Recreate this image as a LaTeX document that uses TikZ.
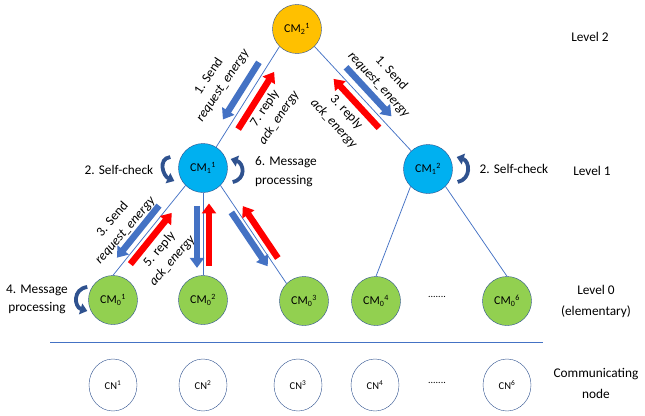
\documentclass[tikz,border=0pt]{standalone}
\usepackage{fontspec}
\setmainfont{Carlito}
\usetikzlibrary{arrows.meta,calc,shapes.geometric}
\definecolor{lineblue}{HTML}{4472C4}
\definecolor{rimblue}{HTML}{2F528F}
\definecolor{lvltwo}{HTML}{FFC000}
\definecolor{lvlone}{HTML}{00B0F0}
\definecolor{lvlzero}{HTML}{92D050}
\definecolor{msgred}{HTML}{FF0000}
\begin{document}
\begin{tikzpicture}[x=1pt,y=-1pt,
    mgr/.style={draw=rimblue,circle,inner sep=0,minimum size=49pt,font=\fontsize{12}{12}\selectfont},
    commnode/.style={draw=rimblue,ellipse,inner sep=0,minimum width=48pt,minimum height=52pt,font=\fontsize{10.5}{11}\selectfont},
    treeedge/.style={draw=lineblue,line width=0.75pt},
    sendmsg/.style={lineblue,line width=6.5pt,-{Triangle[length=10pt,width=14pt]}},
    replymsg/.style={msgred,line width=6.5pt,-{Triangle[length=10pt,width=14pt]}},
    selfturn/.style={rimblue,line width=3.8pt,-{Triangle[length=7pt,width=11pt]}},
    msglabel/.style={font=\fontsize{13.3}{17}\selectfont,align=center,inner sep=0},
    levellabel/.style={font=\fontsize{13.3}{21}\selectfont,align=center,inner sep=0}]
    \useasboundingbox (0,0) rectangle (645,415);
    % cluster managers
    \path (297,29) node [mgr,fill=lvltwo](cm21){CM\textsubscript{2}\textsuperscript{1}};
    \path (203,168) node [mgr,fill=lvlone](cm11){CM\textsubscript{1}\textsuperscript{1}};
    \path (428,169) node [mgr,fill=lvlone](cm12){CM\textsubscript{1}\textsuperscript{2}};
    \path (113,300) node [mgr,fill=lvlzero](cm01){CM\textsubscript{0}\textsuperscript{1}};
    \path (203,300) node [mgr,fill=lvlzero](cm02){CM\textsubscript{0}\textsuperscript{2}};
    \path (304,301) node [mgr,fill=lvlzero](cm03){CM\textsubscript{0}\textsuperscript{3}};
    \path (376,301) node [mgr,fill=lvlzero](cm04){CM\textsubscript{0}\textsuperscript{4}};
    \path (507,301) node [mgr,fill=lvlzero](cm06){CM\textsubscript{0}\textsuperscript{6}};
    \path (437,297) node [font=\fontsize{10}{11}\selectfont](dotscm){.......};
    % communicating nodes
    \path (113,385) node [commnode](cn1){CN\textsuperscript{1}};
    \path (203,385) node [commnode](cn2){CN\textsuperscript{2}};
    \path (298,385) node [commnode](cn3){CN\textsuperscript{3}};
    \path (375,385) node [commnode](cn4){CN\textsuperscript{4}};
    \path (507,385) node [commnode](cn6){CN\textsuperscript{6}};
    \path (437,383) node [font=\fontsize{10}{11}\selectfont](dotscn){.......};
    \coordinate (sepl) at (50,342);
    \coordinate (sepr) at (543,342);
    \draw[draw=lineblue,line width=1pt] (sepl) -- (sepr);
    % tree
    \draw[treeedge] (cm21.south west) -- (cm11);
    \draw[treeedge] (cm21.south east) -- (cm12);
    \draw[treeedge] (cm11.south west) -- (cm01.north);
    \draw[treeedge] (cm11.south) -- (cm02.north);
    \draw[treeedge] (cm11.south east) -- (cm03.north west);
    \draw[treeedge] (cm12.south west) -- (cm04.north);
    \draw[treeedge] (cm12.south east) -- (cm06.north);
    % messages
    \draw[sendmsg] ($(cm21.south west)!0.17!(cm11)!9pt!-90:(cm11)$) -- ($(cm21.south west)!0.64!(cm11)!9pt!-90:(cm11)$);
    \draw[replymsg] ($(cm21.south west)!0.64!(cm11)!9pt!90:(cm11)$) -- ($(cm21.south west)!0.17!(cm11)!9pt!90:(cm11)$);
    \draw[sendmsg] ($(cm21.south east)!0.22!(cm12)!9pt!90:(cm12)$) -- ($(cm21.south east)!0.62!(cm12)!9pt!90:(cm12)$);
    \draw[replymsg] ($(cm21.south east)!0.62!(cm12)!8pt!-90:(cm12)$) -- ($(cm21.south east)!0.22!(cm12)!8pt!-90:(cm12)$);
    \draw[sendmsg] ($(cm11.south west)!0.28!(cm01.north)!8pt!-90:(cm01.north)$) -- ($(cm11.south west)!0.86!(cm01.north)!8pt!-90:(cm01.north)$);
    \draw[replymsg] ($(cm11.south west)!0.83!(cm01.north)!6.5pt!90:(cm01.north)$) -- ($(cm11.south west)!0.26!(cm01.north)!6.5pt!90:(cm01.north)$);
    \draw[sendmsg] ($(cm11.south)!0.16!(cm02.north)!6pt!-90:(cm02.north)$) -- ($(cm11.south)!0.91!(cm02.north)!6pt!-90:(cm02.north)$);
    \draw[replymsg] ($(cm11.south)!0.89!(cm02.north)!6pt!90:(cm02.north)$) -- ($(cm11.south)!0.13!(cm02.north)!6pt!90:(cm02.north)$);
    \draw[sendmsg] ($(cm11.south east)!0.24!(cm03.north west)!6pt!-90:(cm03.north west)$) -- ($(cm11.south east)!0.79!(cm03.north west)!6pt!-90:(cm03.north west)$);
    \draw[replymsg] ($(cm11.south east)!0.78!(cm03.north west)!7pt!90:(cm03.north west)$) -- ($(cm11.south east)!0.25!(cm03.north west)!7pt!90:(cm03.north west)$);
    \path (216,81) node [msglabel,rotate=56](send1){1. Send\\\textit{request\_energy}};
    \path (272,113) node [msglabel,rotate=56](reply7){7. reply\\\textit{ack\_energy}};
    \path (385,79) node [msglabel,rotate=-47](send1b){1. Send\\\textit{request\_energy}};
    \path (340,118) node [msglabel,rotate=-47](reply3){3. reply\\\textit{ack\_energy}};
    \path (119,225) node [msglabel,rotate=49](send3){3. Send\\\textit{request\_energy}};
    \path (166,255) node [msglabel,rotate=49](reply5){5. reply\\\textit{ack\_energy}};
    % self actions
    \draw[selfturn] ([shift={(-8,-11)}]cm11.west) .. controls +(-13,2) and +(-11,-5) .. ([shift={(-4,13)}]cm11.west);
    \draw[selfturn] ([shift={(5,14)}]cm11.east) .. controls +(14,-3) and +(13,4) .. ([shift={(3,-9)}]cm11.east);
    \draw[selfturn] ([shift={(5,13)}]cm12.east) .. controls +(14,-3) and +(13,4) .. ([shift={(4,-12)}]cm12.east);
    \draw[selfturn] ([shift={(-1,-13)}]cm01.west) .. controls +(-15,2) and +(-13,-4) .. ([shift={(-1,11)}]cm01.west);
    \path (119,170) node [msglabel](chk1){2. Self-check};
    \path (255,172) node [msglabel,anchor=west,align=left,font=\fontsize{13.3}{19}\selectfont](proc1){6. Message\\processing};
    \path (514,169) node [msglabel](chk2){2. Self-check};
    \path (37,299) node [msglabel,font=\fontsize{13.3}{18}\selectfont](proc0){4. Message\\processing};
    % levels
    \path (590,37) node [levellabel](lv2){Level 2};
    \path (592,171) node [levellabel](lv1){Level 1};
    \path (596,301) node [levellabel](lv0){Level 0\\(elementary)};
    \path (596,383) node [levellabel](lvcn){Communicating\\node};
\end{tikzpicture}
\end{document}
